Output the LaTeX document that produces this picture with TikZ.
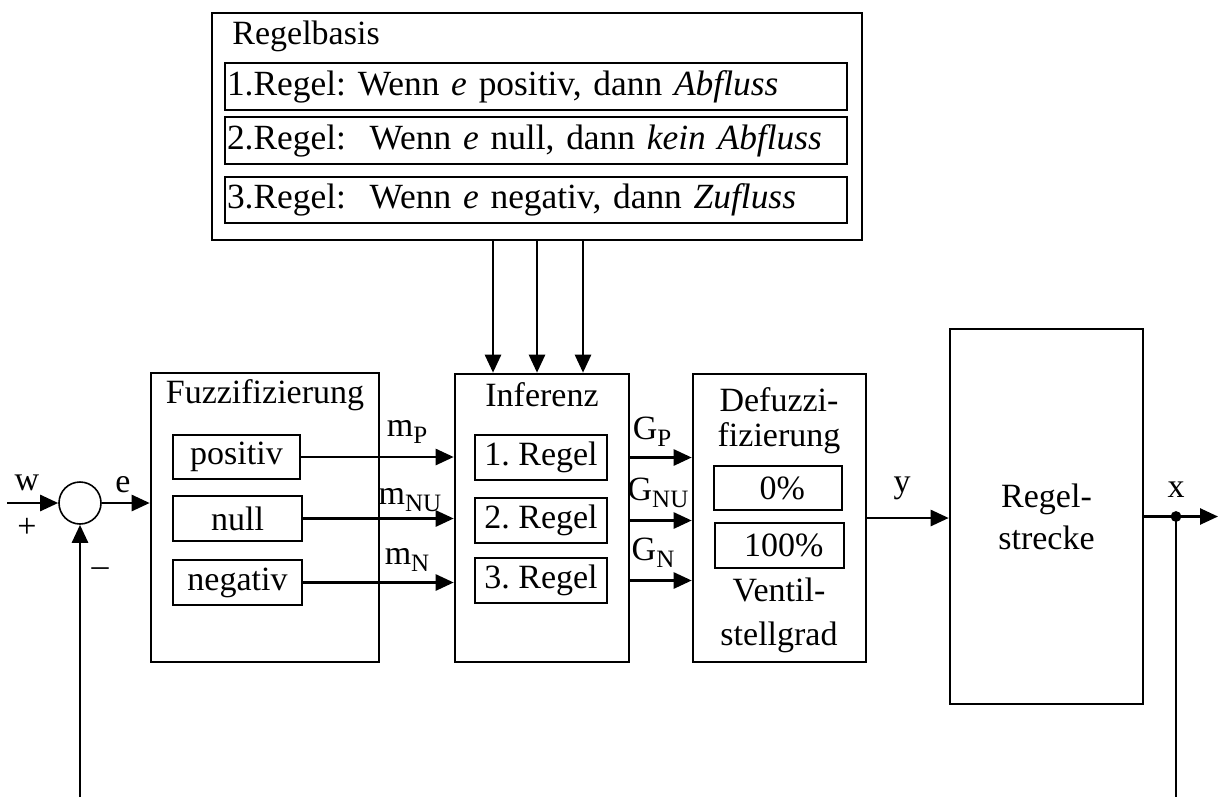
\documentclass[tikz,border=0pt]{standalone}
\usepackage{fontspec}
\setmainfont{Liberation Serif}
\usetikzlibrary{arrows.meta}

\newcommand{\ind}[1]{\raisebox{-0.45ex}{\fontsize{12.5}{14}\selectfont #1}}

\tikzset{
	blk/.style={draw,line width=1.3pt,inner sep=0pt},
	regel/.style={blk,minimum width=311pt,inner xsep=1pt,text width=309pt,align=left,font=\fontsize{17.7}{20}\selectfont},
	pfeil/.style={line width=1.3pt,-{Triangle[length=9pt,width=8pt]}},
	lbl/.style={inner sep=0pt}
}

\begin{document}
\frenchspacing
\begin{tikzpicture}[x=0.5pt,y=-0.5pt,font=\fontsize{17}{20}\selectfont]
		\useasboundingbox (0,0) rectangle (1218,797);
		% Regelbasis
		\node[blk,minimum width=325pt,minimum height=113.5pt] (rb) at (537,126.5) {};
		\node[lbl,anchor=west] (rbt) at (232,36) {Regelbasis};
		\node[regel,minimum height=23.5pt] (r1) at (536,86.5) {1.Regel: Wenn \textit{e} positiv, dann \textit{Abfluss}};
		\node[regel,minimum height=23.5pt] (r2) at (536,140.5) {2.Regel:\ \ Wenn \textit{e} null, dann \textit{kein Abfluss}};
		\node[regel,minimum height=23pt] (r3) at (536,200) {3.Regel:\ \ Wenn \textit{e} negativ, dann \textit{Zufluss}};
		% Bloecke
		\node[blk,minimum width=114pt,minimum height=144.5pt] (fuz) at (265,517.5) {};
		\node[lbl] (fuzt) at (265,395) {Fuzzifizierung};
		\node[blk,minimum width=63.5pt,minimum height=22pt] (pos) at (236.5,457) {positiv};
		\node[blk,minimum width=64.5pt,minimum height=22.5pt] (nul) at (237.5,518.5) {null};
		\node[blk,minimum width=64.5pt,minimum height=22.5pt] (neg) at (237.5,582.5) {negativ};
		\node[blk,minimum width=87pt,minimum height=144pt] (inf) at (542,518) {};
		\node[lbl] (inft) at (542,395) {Inferenz};
		\node[blk,minimum width=66pt,minimum height=22.5pt] (reg1) at (541,457.5) {1. Regel};
		\node[blk,minimum width=66pt,minimum height=22.5pt] (reg2) at (541,520.5) {2. Regel};
		\node[blk,minimum width=66pt,minimum height=22.5pt] (reg3) at (541,580.5) {3. Regel};
		\node[blk,minimum width=86.5pt,minimum height=144pt] (def) at (779.5,518) {};
		\node[lbl] (deft1) at (779,400) {Defuzzi-};
		\node[lbl] (deft2) at (779,438) {fizierung};
		\node[blk,minimum width=64pt,minimum height=22pt] (p0) at (778,488) {\ 0\%};
		\node[blk,minimum width=64.5pt,minimum height=22.5pt] (p100) at (779.5,545.5) {\ 100\%};
		\node[lbl] (deft3) at (779,590) {Ventil-};
		\node[lbl] (deft4) at (779,637) {stellgrad};
		\node[blk,minimum width=96.5pt,minimum height=187.5pt,align=center,font=\fontsize{17}{21}\selectfont] (rs) at (1046.5,516.5) {Regel-\\strecke};
		% Summierstelle
		\node[draw,circle,line width=0.8pt,minimum size=21pt,inner sep=0pt] (sum) at (80,503) {};
		\coordinate (win) at (7,503);
		\coordinate (fbl) at (80,797);
		\coordinate (abzw) at (1176,516.5);
		\coordinate (xend) at (1218,516.5);
		\coordinate (fbr) at (1176,797);
		% Verbindungen
		\draw[pfeil] (win) -- (sum.west);
		\draw[pfeil] (fbl) -- (sum.south);
		\draw[pfeil] (sum.east) -- (sum.east -| fuz.west);
		\draw[pfeil] (pos.east) -- (pos.east -| inf.west);
		\draw[pfeil] (nul.east) -- (nul.east -| inf.west);
		\draw[pfeil] (neg.east) -- (neg.east -| inf.west);
		\draw[pfeil] (reg1 -| inf.east) -- (reg1 -| def.west);
		\draw[pfeil] (reg2 -| inf.east) -- (reg2 -| def.west);
		\draw[pfeil] (reg3 -| inf.east) -- (reg3 -| def.west);
		\draw[pfeil] (def.east) -- (def.east -| rs.west);
		\draw[pfeil] (rs.east) -- (xend);
		\draw[line width=1.3pt] (abzw) -- (fbr);
		\fill (abzw) circle (2.7pt);
		\foreach \xx [count=\i] in {493,537,583} {
			\coordinate (rbs\i) at (\xx,240);
			\draw[pfeil] (rbs\i) -- (rbs\i |- inf.north);
		}
		% Beschriftungen
		\node[lbl] (lw) at (27,483) {w};
		\node[lbl] (lplus) at (27,528) {+};
		\node[lbl] (le) at (123,485) {e};
		\node[lbl] (lminus) at (100,572) {–};
		\node[lbl] (lmp) at (407,432) {m\ind{P}};
		\node[lbl] (lmnu) at (410,500) {m\ind{NU}};
		\node[lbl] (lmn) at (407,560) {m\ind{N}};
		\node[lbl] (lgp) at (652,432) {G\ind{P}};
		\node[lbl] (lgnu) at (658,493) {G\ind{NU}};
		\node[lbl] (lgn) at (653,553) {G\ind{N}};
		\node[lbl] (ly) at (902,488) {y};
		\node[lbl] (lx) at (1176,490) {x};
	\end{tikzpicture}
\end{document}
